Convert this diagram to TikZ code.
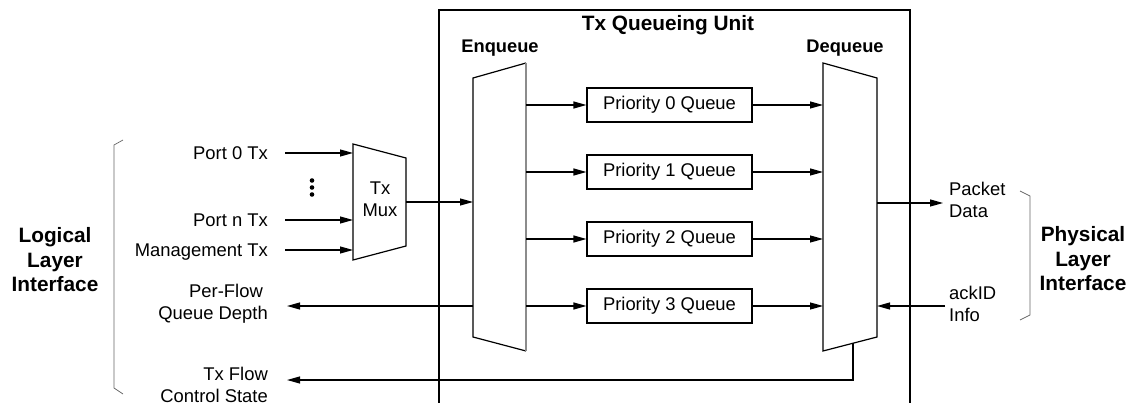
\documentclass[tikz,border=0pt]{standalone}
\usepackage{fontspec}
\setmainfont{Liberation Sans}
\usetikzlibrary{arrows.meta}
\begin{document}
\begin{tikzpicture}[x=1pt,y=-1pt,
  every node/.style={font=\fontsize{18.4}{22}\selectfont, inner sep=0pt},
  ttl/.style={font=\fontsize{20.8}{24.5}\selectfont\bfseries, align=center},
  sub/.style={font=\fontsize{18.3}{22}\selectfont\bfseries},
  queue/.style={draw, line width=1.2pt, minimum width=165pt, minimum height=34pt},
  wire/.style={line width=1.2pt},
  arr/.style={wire, -{Triangle[length=13pt,width=7pt]}},
  blk/.style={line width=1.2pt, line join=miter},
  brk/.style={line width=0.7pt, black!60}
]
\useasboundingbox (0,0) rectangle (1129,403);

% Tx Queueing Unit frame
\draw[line width=1.1pt] (439,403) -- (439,10) -- (910,10) -- (910,403);
\node[ttl] (unit) at (668,25) {Tx Queueing Unit};
\node[sub] (enqt) at (500,48) {Enqueue};
\node[sub] (deqt) at (845,48) {Dequeue};

% Mux
\draw[blk] (353,144) -- (406,158) -- (406,246) -- (353,260) -- cycle;
\node[align=center] (mux) at (380,199) {Tx\\Mux};
\coordinate (mux-in0) at (353,153);
\coordinate (mux-inn) at (353,220);
\coordinate (mux-inm) at (353,250);
\coordinate (mux-out) at (406,202);

% Enqueue
\draw[blk] (526,63) -- (473,78) -- (473,337) -- (526,351);
\draw[line width=1.2pt, black!45] (526,63) -- (526,351);
\coordinate (enq-in) at (473,202);
\coordinate (enq-fb) at (473,306);

% Dequeue
\draw[blk] (823,63) -- (877,78) -- (877,337) -- (823,351) -- cycle;
\coordinate (deq-out) at (877,203);
\coordinate (deq-ack) at (877,306);
\coordinate (deq-bot) at (853,343.2);

% Queues
\foreach \i/\y in {0/105,1/172,2/239,3/306}{
  \node[queue] (q\i) at (669.5,\y) {Priority \i\ Queue};
  \coordinate (enq-out\i) at (526,\y);
  \coordinate (deq-in\i) at (823,\y);
  \draw[arr] (enq-out\i) -- (q\i.west);
  \draw[arr] (q\i.east) -- (deq-in\i);
}

% Left inputs
\node[anchor=base east] (p0) at (268,159.6) {Port 0 Tx};
\node[anchor=base east] (pn) at (268,226.6) {Port n Tx};
\node[anchor=base east] (pm) at (268,256.6) {Management Tx};
\coordinate (p0-s) at (285,153);
\coordinate (pn-s) at (285,220);
\coordinate (pm-s) at (285,250);
\draw[arr] (p0-s) -- (mux-in0);
\draw[arr] (pn-s) -- (mux-inn);
\draw[arr] (pm-s) -- (mux-inm);
\foreach \y in {180.5,187.5,194.5} \fill (312,\y) circle (2.3);

\draw[arr] (mux-out) -- (enq-in);

% Per-flow queue depth
\node[anchor=east, align=right] (pf) at (268,304) {Per-Flow\hspace*{5pt}\\Queue Depth};
\coordinate (pf-e) at (287,306);
\draw[arr] (enq-fb) -- (pf-e);

% Tx flow control state
\node[anchor=east, align=right] (fc) at (268,385) {Tx Flow\\Control State};
\coordinate (fc-e) at (287,380);
\coordinate (fc-c) at (853,380);
\draw[arr] (deq-bot) -- (fc-c) -- (fc-e);

% Logical layer label and bracket
\node[ttl] (lli) at (55,260) {Logical\\Layer\\Interface};
\draw[brk] (123,140) -- (114,145) -- (114,388) -- (123,394);

% Right side
\coordinate (pd-e) at (943,203);
\coordinate (ack-s) at (945,306);
\draw[arr] (deq-out) -- (pd-e);
\draw[arr] (ack-s) -- (deq-ack);
\node[anchor=west, align=left] (pd) at (949,200) {Packet\\Data};
\node[anchor=west, align=left] (ack) at (949,304) {ackID\\Info};
\draw[brk] (1020,191) -- (1030,196) -- (1030,315) -- (1020,320);
\node[ttl] (pli) at (1083,259) {Physical\\Layer\\Interface};
\end{tikzpicture}
\end{document}
